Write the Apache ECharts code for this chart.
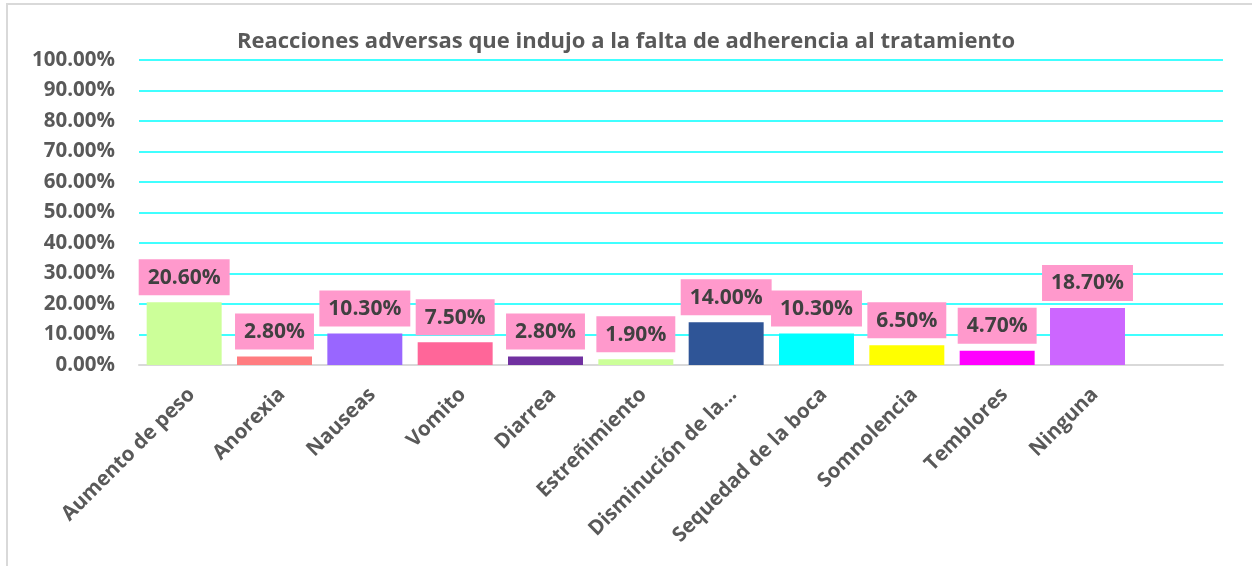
<!DOCTYPE html>
<html>
<head>
<meta charset="utf-8">
<script src="https://cdn.jsdelivr.net/npm/echarts@6/dist/echarts.min.js"></script>
<style>
html,body{margin:0;padding:0;background:#fff;}
#chart{width:1252px;height:566px;}
</style>
</head>
<body>
<div id="chart"></div>
<script>
const titleText = 'Reacciones adversas que indujo a la falta de adherencia al tratamiento';
const categories = ['Aumento de peso','Anorexia','Nauseas','Vomito','Diarrea','Estreñimiento','Disminución de la...','Sequedad de la boca','Somnolencia','Temblores','Ninguna',''];
const values = [20.6, 2.8, 10.3, 7.5, 2.8, 1.9, 14.0, 10.3, 6.5, 4.7, 18.7, null];
const barColors = ['#CCFF99','#FF7C80','#9966FF','#FF6699','#7030A0','#CCFF99','#2F5597','#00FFFF','#FFFF00','#FF00FF','#CC66FF','#FFFFFF'];
const yTicks = {min: 0, max: 100, interval: 10};

const FONT = '"Open Sans", sans-serif';
const chart = echarts.init(document.getElementById('chart'), null, {renderer: 'canvas'});
chart.setOption({
  animation: false,
  backgroundColor: '#FFFFFF',
  title: {
    text: titleText,
    left: 'center',
    top: 26,
    textStyle: {fontFamily: FONT, fontSize: 22, fontWeight: 'bold', color: '#595959'}
  },
  graphic: [{
    type: 'rect',
    shape: {x: 7, y: 4, width: 1300, height: 620},
    style: {fill: 'none', stroke: '#D9D9D9', lineWidth: 2},
    silent: true
  }],
  grid: {left: 139, right: 29, top: 60, bottom: 201, containLabel: false},
  xAxis: {
    type: 'category',
    data: categories,
    boundaryGap: true,
    axisTick: {show: false},
    axisLine: {show: true, lineStyle: {color: '#D9D9D9', width: 2}},
    axisLabel: {
      interval: 0,
      rotate: 45,
      margin: 19,
      verticalAlign: 'top',
      fontFamily: FONT, fontSize: 20.5, fontWeight: 'bold', color: '#595959'
    }
  },
  yAxis: {
    type: 'value',
    min: yTicks.min, max: yTicks.max, interval: yTicks.interval,
    axisLine: {show: false},
    axisTick: {show: false},
    splitLine: {lineStyle: {color: '#00FFFF', width: 1.5}},
    axisLabel: {
      margin: 24,
      formatter: v => v.toFixed(2) + '%',
      fontFamily: FONT, fontSize: 20.5, fontWeight: 'bold', color: '#595959'
    }
  },
  series: [{
    type: 'bar',
    data: values.map((v, i) => ({value: v, itemStyle: {color: barColors[i]}})),
    barWidth: '83%',
    label: {
      show: true,
      position: 'top',
      distance: 7,
      formatter: p => p.value == null ? '' : p.value.toFixed(2) + '%',
      backgroundColor: '#FF99CC',
      padding: [8, 9, 7, 9],
      fontFamily: FONT, fontSize: 21, fontWeight: 'bold', color: '#404040'
    }
  }]
});
</script>
</body>
</html>
